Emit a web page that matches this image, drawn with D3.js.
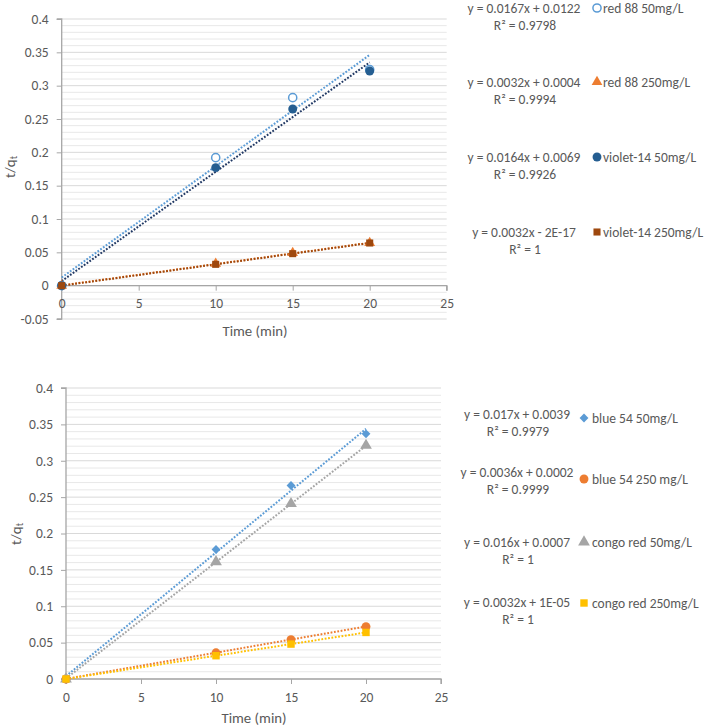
<!DOCTYPE html>
<html><head><meta charset="utf-8">
<script src="https://cdn.jsdelivr.net/npm/d3@7"></script>
<style>
body{margin:0;background:#fff}
text{font-family:Carlito,Calibri,Lato,sans-serif;fill:#595959}
</style></head>
<body><svg id="c" width="708" height="728"></svg>
<script>
// ---------- DATA ----------
const timeMin = [0, 10, 15, 20];
const xTicks = [0, 5, 10, 15, 20, 25];
const yTicksTop = [-0.05, 0, 0.05, 0.1, 0.15, 0.2, 0.25, 0.3, 0.35, 0.4];
const yTicksBottom = [0, 0.05, 0.1, 0.15, 0.2, 0.25, 0.3, 0.35, 0.4];

// top chart series
const topNames = ["red 88 50mg/L", "red 88 250mg/L", "violet-14 50mg/L", "violet-14 250mg/L"];
const red88_50 = [0, 0.192, 0.282, 0.324];
const red88_250 = [0, 0.033, 0.049, 0.064];
const violet14_50 = [0, 0.177, 0.265, 0.322];
const violet14_250 = [0, 0.032, 0.048, 0.064];
const topSlopes = [0.0167, 0.0032, 0.0164, 0.0032];
const topIntercepts = [0.0122, 0.0004, 0.0069, -2e-17];
const topEquations = ["y = 0.0167x + 0.0122", "y = 0.0032x + 0.0004", "y = 0.0164x + 0.0069", "y = 0.0032x - 2E-17"];
const topR2 = ["R² = 0.9798", "R² = 0.9994", "R² = 0.9926", "R² = 1"];

// bottom chart series
const bottomNames = ["blue 54 50mg/L", "blue 54 250 mg/L", "congo red 50mg/L", "congo red 250mg/L"];
const blue54_50 = [0, 0.178, 0.266, 0.337];
const blue54_250 = [0, 0.036, 0.054, 0.072];
const congo_50 = [0, 0.161, 0.241, 0.321];
const congo_250 = [0, 0.032, 0.048, 0.064];
const bottomSlopes = [0.017, 0.0036, 0.016, 0.0032];
const bottomIntercepts = [0.0039, 0.0002, 0.0007, 0.00001];
const bottomEquations = ["y = 0.017x + 0.0039", "y = 0.0036x + 0.0002", "y = 0.016x + 0.0007", "y = 0.0032x + 1E-05"];
const bottomR2 = ["R² = 0.9979", "R² = 0.9999", "R² = 1", "R² = 1"];

// ---------- STYLE ----------
const topStyle = [
  {sym: d3.symbolCircle, size: 52, fill: "#fff", stroke: "#5B9BD5", sw: 1.5, line: "#5B9BD5"},
  {sym: d3.symbolTriangle, size: 50, fill: "#ED7D31", stroke: "none", sw: 0, line: "#ED7D31"},
  {sym: d3.symbolCircle, size: 62, fill: "#255E91", stroke: "none", sw: 0, line: "#203864"},
  {sym: d3.symbolSquare, size: 50, fill: "#9E480E", stroke: "none", sw: 0, line: "#9E480E"}
];
const bottomStyle = [
  {sym: d3.symbolDiamond2, size: 50, fill: "#5B9BD5", stroke: "none", sw: 0, line: "#5B9BD5"},
  {sym: d3.symbolCircle, size: 62, fill: "#ED7D31", stroke: "none", sw: 0, line: "#ED7D31"},
  {sym: d3.symbolTriangle, size: 60, fill: "#A5A5A5", stroke: "none", sw: 0, line: "#A5A5A5"},
  {sym: d3.symbolSquare, size: 55, fill: "#FFC000", stroke: "none", sw: 0, line: "#FFC000"}
];

const svg = d3.select("#c");
const FS = "13.5px";

function panel(cfg) {
  const x = d3.scaleLinear().domain([0, 25]).range(cfg.xr);
  const y = d3.scaleLinear().domain(cfg.yd).range(cfg.yr);
  const g = svg.append("g");
  // gridlines every 0.01
  const grid = d3.range(Math.round(cfg.yd[0] * 100), Math.round(cfg.yd[1] * 100) + 1).map(v => v / 100);
  g.selectAll(".gl").data(grid).enter().append("line")
    .attr("x1", cfg.xr[0]).attr("x2", cfg.xr[1])
    .attr("y1", d => y(d)).attr("y2", d => y(d))
    .attr("stroke", d => (Math.round(d * 100) % 5 === 0) ? "#D9D9D9" : "#E8E8E8").attr("stroke-width", 1);
  // y axis
  const ya = d3.axisLeft(y).tickValues(cfg.yticks).tickSize(5).tickPadding(8)
    .tickFormat(d => String(+d.toFixed(2)));
  const yg = g.append("g").attr("transform", `translate(${cfg.xr[0]},0)`).call(ya);
  // x axis at y=0
  const xa = d3.axisBottom(x).tickValues(xTicks).tickSize(5).tickPadding(6).tickFormat(d3.format("d"));
  const xg = g.append("g").attr("transform", `translate(0,${y(0)})`).call(xa);
  [yg, xg].forEach(a => {
    a.select(".domain").attr("stroke", "#A6A6A6").attr("stroke-width", 1.3);
    a.selectAll(".tick line").attr("stroke", "#A6A6A6");
    a.selectAll("text").style("font-size", FS).attr("fill", "#595959");
  });
  yg.select(".domain").attr("d", `M-5,${cfg.yr[1]}H0V${cfg.yr[0]}H-5`);
  xg.select(".domain").attr("d", `M${cfg.xr[0]},5V0H${cfg.xr[1]}V5`);
  xg.selectAll(".tick text").attr("dy", null).attr("y", cfg.xLabelY - y(0)).attr("dominant-baseline", "central");
  // titles
  g.append("text").attr("x", cfg.xTitle[0]).attr("y", cfg.xTitle[1]).attr("text-anchor", "middle")
    .attr("dominant-baseline", "central").style("font-size", "14.8px").text("Time (min)");
  const yt = g.append("text").attr("transform", `translate(${cfg.yTitle[0]},${cfg.yTitle[1]}) rotate(-90)`)
    .attr("text-anchor", "middle").attr("dominant-baseline", "central").style("font-size", "15px");
  yt.append("tspan").text("t/q");
  yt.append("tspan").attr("dy", 3).style("font-size", "10px").text("t");

  // trendlines
  cfg.series.forEach((s, i) => {
    const st = cfg.styles[i];
    const tl = [0, 20].map(t => [t, cfg.slopes[i] * t + cfg.intercepts[i]]);
    g.append("path").attr("d", d3.line().x(d => x(d[0])).y(d => y(d[1]))(tl))
      .attr("stroke", st.line).attr("stroke-width", 2).attr("fill", "none")
      .attr("stroke-dasharray", "1.8,1.6");
  });
  // markers
  cfg.series.forEach((s, i) => {
    const st = cfg.styles[i];
    g.selectAll(null).data(timeMin.map((t, k) => [t, s[k]])).enter().append("path")
      .attr("d", d3.symbol().type(st.sym).size(st.size))
      .attr("transform", d => `translate(${x(d[0])},${y(d[1])})`)
      .attr("fill", st.fill).attr("stroke", st.stroke).attr("stroke-width", st.sw);
  });
  // legend
  cfg.names.forEach((n, i) => {
    const st = cfg.styles[i];
    g.append("text").attr("x", cfg.eqX).attr("y", cfg.eqY[i]).attr("text-anchor", "middle")
      .attr("dominant-baseline", "central").style("font-size", FS).attr("fill", "#404040").text(cfg.eqs[i]);
    g.append("text").attr("x", cfg.eqX + 1).attr("y", cfg.r2Y[i]).attr("text-anchor", "middle")
      .attr("dominant-baseline", "central").style("font-size", FS).attr("fill", "#404040").text(cfg.r2[i]);
    g.append("path").attr("d", d3.symbol().type(st.sym).size(st.size))
      .attr("transform", `translate(${cfg.mX},${cfg.mY[i]})`)
      .attr("fill", st.fill).attr("stroke", st.stroke).attr("stroke-width", st.sw);
    g.append("text").attr("x", cfg.tX).attr("y", cfg.mY[i]).attr("dominant-baseline", "central")
      .style("font-size", FS).attr("fill", "#404040").text(n);
  });
}

panel({
  xr: [61.7, 446.7], yd: [-0.05, 0.4], yr: [319, 19], yticks: yTicksTop,
  xLabelY: 304, xTitle: [255, 331], yTitle: [10, 167],
  series: [red88_50, red88_250, violet14_50, violet14_250], styles: topStyle,
  slopes: topSlopes, intercepts: topIntercepts, eqs: topEquations, r2: topR2, names: topNames,
  eqX: 524, eqY: [8, 82, 157, 232], r2Y: [25, 99, 174, 249],
  mX: 597, mY: [8, 82, 157, 232], tX: 603
});
panel({
  xr: [66, 441], yd: [0, 0.4], yr: [679, 388], yticks: yTicksBottom,
  xLabelY: 697, xTitle: [254, 718], yTitle: [16, 534],
  series: [blue54_50, blue54_250, congo_50, congo_250], styles: bottomStyle,
  slopes: bottomSlopes, intercepts: bottomIntercepts, eqs: bottomEquations, r2: bottomR2, names: bottomNames,
  eqX: 517, eqY: [414, 472, 542, 602], r2Y: [431, 489, 559, 619],
  mX: 584, mY: [418, 479, 542, 603], tX: 592
});
</script></body></html>
